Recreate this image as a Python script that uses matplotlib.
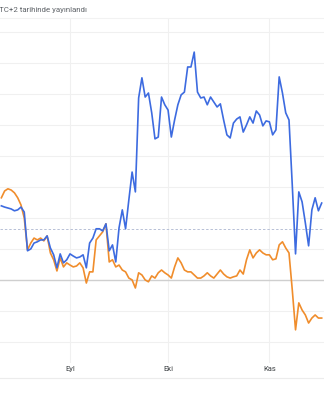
import matplotlib
matplotlib.use("Agg")
import matplotlib.pyplot as plt
from matplotlib.lines import Line2D
import pandas as pd

# daily dates shown in the crop (Aug -> mid Nov)
dates = pd.date_range("2023-08-11", periods=99, freq="D")

# % change
blue = [23.9, 23.5, 23.2, 22.9, 22.3, 22.6, 23.5, 21.9, 9.4, 10.0,
        11.9, 12.3, 12.9, 12.9, 14.2, 10.3, 8.1, 3.9, 8.4, 5.5,
        6.5, 8.4, 7.7, 7.1, 7.4, 8.1, 3.9, 11.9, 13.5, 16.5,
        16.5, 15.8, 18.1, 9.4, 11.3, 5.8, 16.8, 22.6, 16.5, 25.8,
        34.8, 28.4, 58.7, 65.2, 59.0, 60.3, 53.9, 45.5, 46.1, 59.0,
        56.5, 54.8, 46.1, 51.6, 56.5, 59.7, 60.6, 68.7, 68.7, 73.5,
        60.6, 58.7, 59.0, 56.5, 59.0, 57.4, 55.8, 56.8, 51.6, 46.8,
        45.8, 50.6, 51.9, 52.6, 47.7, 50.0, 52.6, 50.6, 54.5, 53.2,
        49.7, 51.3, 51.0, 46.8, 48.4, 65.5, 60.3, 53.9, 51.6, 30.6,
        8.4, 28.4, 25.2, 18.4, 11.0, 22.6, 26.5, 22.3, 24.8]

orange = [26.5, 28.7, 29.4, 29.0, 28.1, 26.5, 24.2, 20.0, 9.7, 11.9,
          13.5, 12.9, 13.5, 12.6, 14.2, 8.7, 6.5, 2.9, 7.1, 4.2,
          5.5, 4.8, 4.2, 4.5, 5.5, 3.9, -1.0, 2.6, 2.6, 12.9,
          14.2, 15.5, 18.1, 5.8, 6.5, 4.2, 4.8, 3.2, 2.6, 0.6,
          0.0, -2.6, 2.3, 1.6, 0.0, -0.6, 1.3, 0.6, 2.3, 3.2,
          2.3, 1.6, 0.6, 4.2, 7.1, 5.5, 3.2, 2.6, 2.6, 1.6,
          0.6, 0.6, 1.3, 2.3, 1.3, 0.6, 1.9, 3.2, 1.9, 1.0,
          0.6, 1.0, 1.3, 3.2, 1.9, 6.5, 9.7, 7.1, 8.7, 9.7,
          8.7, 8.1, 8.1, 6.5, 6.8, 11.3, 12.3, 10.3, 8.7, -3.2,
          -16.1, -7.4, -9.7, -11.3, -13.9, -12.3, -11.3, -12.3, -12.3]

ref_line = 16.5
grid_vals = [-20, -10, 10, 20, 30, 40, 50, 60, 70, 80]
month_ticks = pd.to_datetime(["2023-09-01", "2023-10-01", "2023-11-01"])
month_labels = ["Eyl", "Eki", "Kas"]

fig = plt.figure(figsize=(3.24, 4.0), dpi=100)
ax = fig.add_axes([0, 1 - 363 / 400, 1, (363 - 18) / 400])

# faint grid
for g in grid_vals:
    ax.axhline(g, color="#f0f0f0", lw=0.8, zorder=0)
ax.axhline(0, color="#cfcfcf", lw=1.0, zorder=1)
ax.axhline(ref_line, color="#b7c0d6", lw=0.7, ls=(0, (2.5, 2)), zorder=1)
for m in month_ticks:
    ax.axvline(m, color="#f0f0f0", lw=0.8, zorder=0)

ax.plot(dates, orange, color="#f08d2c", lw=1.2, zorder=3)
ax.plot(dates, blue, color="#3d6be0", lw=1.2, zorder=4)

ax.set_xlim(dates[0] - pd.Timedelta(hours=10), dates[-1] + pd.Timedelta(hours=17))
ax.set_ylim(-26.8, 84.5)
ax.set_yticks([])
ax.set_xticks(month_ticks)
ax.set_xticklabels(month_labels, fontsize=5.5, color="#3c4043", family="Roboto")
ax.tick_params(axis="x", length=0, pad=2)
for s in ["left", "right", "bottom"]:
    ax.spines[s].set_visible(False)
ax.spines["top"].set_color("#f2f2f2")
ax.spines["top"].set_linewidth(0.8)

fig.text(-0.004, 1 - 10 / 400, "TC+2 tarihinde yayınlandı", fontsize=5.7,
         color="#5f6368", va="center", ha="left", family="Roboto")
fig.add_artist(Line2D([0, 1], [1 - 378 / 400] * 2, color="#ececec", lw=0.8))

fig.savefig("out.png", dpi=100)
